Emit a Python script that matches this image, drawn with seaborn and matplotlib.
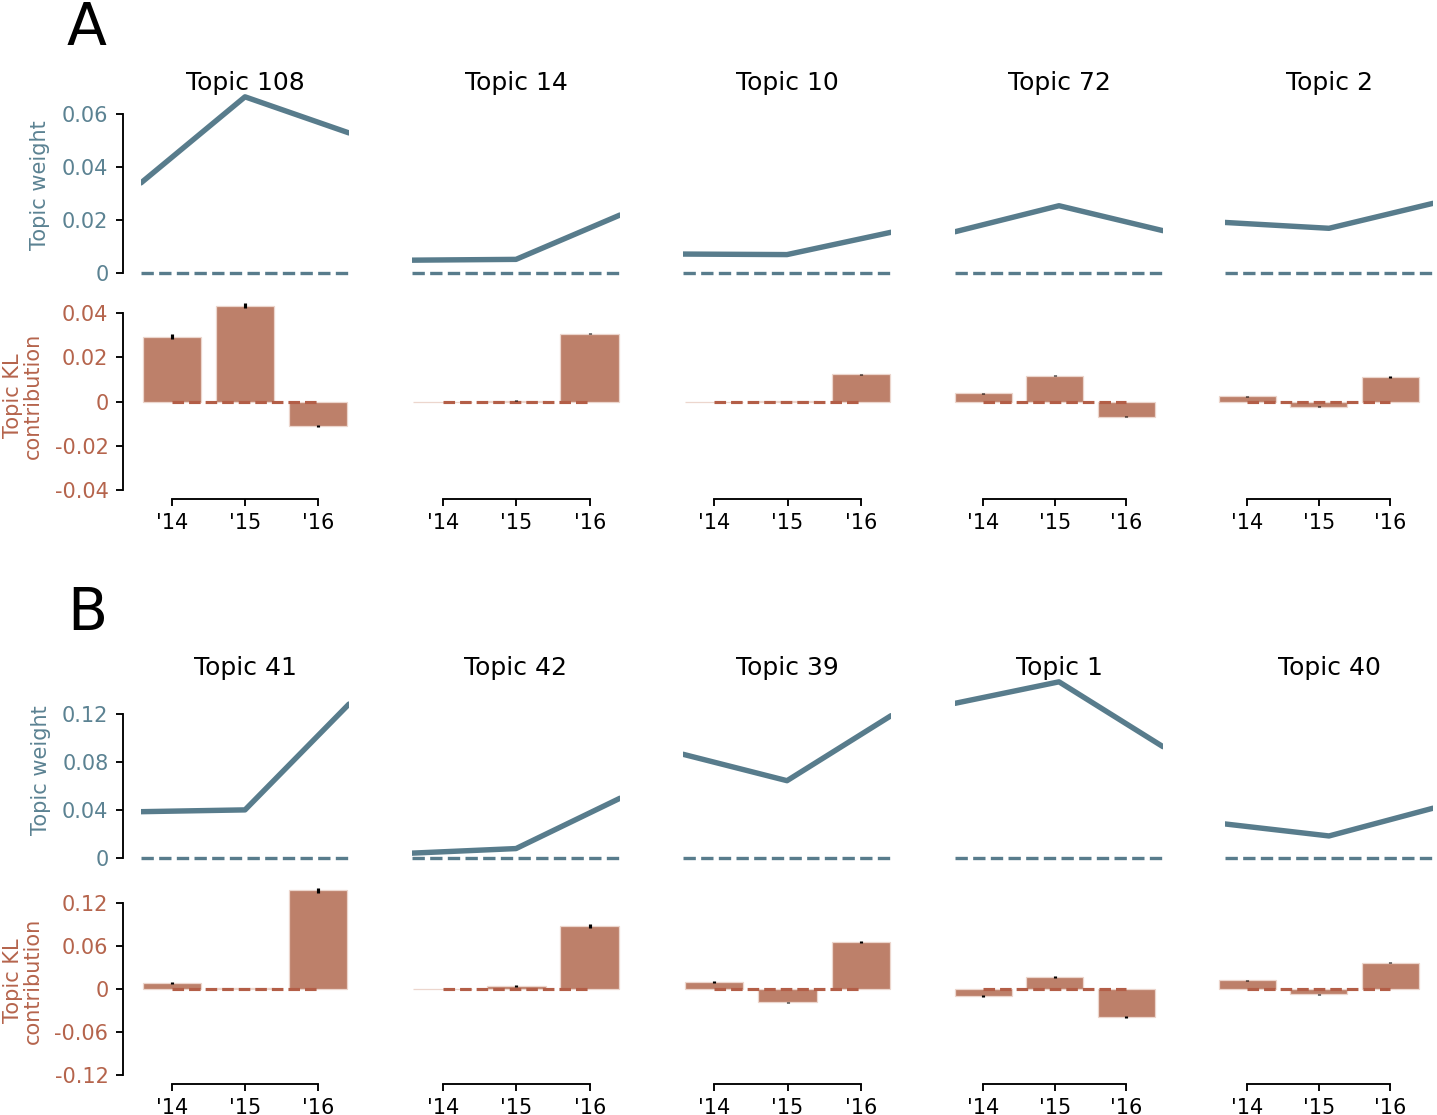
import numpy as np
import pandas as pd
import matplotlib
matplotlib.use("Agg")
import matplotlib.pyplot as plt
import seaborn as sns

# ---------------- data ----------------
years = ["'14", "'15", "'16"]

A_topics = ["Topic 108", "Topic 14", "Topic 10", "Topic 72", "Topic 2"]
A_weight = [[0.0340, 0.0664, 0.0528],
            [0.0049, 0.0052, 0.0219],
            [0.0072, 0.0070, 0.0154],
            [0.0156, 0.0254, 0.0160],
            [0.0191, 0.0169, 0.0263]]
A_kl = [[0.0294, 0.0435, -0.0110],
        [0.0000, 0.0003, 0.0307],
        [0.0000, 0.0002, 0.0124],
        [0.0038, 0.0118, -0.0068],
        [0.0023, -0.0023, 0.0112]]
A_kl_err = [[0.0010, 0.0012, 0.0004],
            [0.0000, 0.0002, 0.0003],
            [0.0000, 0.0001, 0.0003],
            [0.0003, 0.0003, 0.0003],
            [0.0002, 0.0002, 0.0003]]
A_weight_ticks = [0, 0.02, 0.04, 0.06]
A_kl_ticks = [-0.04, -0.02, 0, 0.02, 0.04]

B_topics = ["Topic 41", "Topic 42", "Topic 39", "Topic 1", "Topic 40"]
B_weight = [[0.0387, 0.0402, 0.1283],
            [0.0042, 0.0080, 0.0499],
            [0.0865, 0.0645, 0.1186],
            [0.1289, 0.1468, 0.0928],
            [0.0285, 0.0185, 0.0416]]
B_kl = [[0.0079, 0.0010, 0.1378],
        [0.0000, 0.0042, 0.0879],
        [0.0094, -0.0188, 0.0655],
        [-0.0102, 0.0169, -0.0394],
        [0.0117, -0.0078, 0.0366]]
B_kl_err = [[0.0012, 0.0005, 0.0035],
            [0.0000, 0.0010, 0.0025],
            [0.0010, 0.0010, 0.0015],
            [0.0010, 0.0015, 0.0010],
            [0.0010, 0.0010, 0.0012]]
B_weight_ticks = [0, 0.04, 0.08, 0.12]
B_kl_ticks = [-0.12, -0.06, 0, 0.06, 0.12]

# ---------------- style ----------------
sns.set_theme(style="ticks")
plt.rcParams['font.family'] = ['DejaVu Sans']
plt.rcParams.update({
    "text.color": "black",
    "axes.labelcolor": "black",
    "axes.titlecolor": "black",
    "axes.edgecolor": "black",
    "axes.linewidth": 0.9,
    "xtick.major.size": 3.5, "ytick.major.size": 3.5,
    "xtick.major.width": 0.9, "ytick.major.width": 0.9,
    "xtick.major.pad": 3.5, "ytick.major.pad": 3.5,
    "xtick.color": "black", "ytick.color": "black",
})

LINE_C = "#587c8c"
BAR_C = "#bd806a"
BAR_EDGE = "#ecd6cd"
DASH_C = "#b35e47"
KL_TXT = "#b5644c"
W_TXT = "#5b8292"

DPI = 150
W, H = 1437, 1115
fig = plt.figure(figsize=(W / DPI, H / DPI), dpi=DPI)


def box(l, r, t, h):
    return [l / W, 1 - (t + h) / H, (r - l) / W, h / H]


def fmt(v):
    return "0" if v == 0 else f"{v:g}"


top_x = [(141, 349), (412, 620), (683, 891), (955, 1163), (1225, 1433)]
bot_x = [(135.5, 354.5), (406, 626.5), (677.3, 897.8), (947.6, 1161.8), (1211.5, 1426)]
SPINE_X = 123  # px, left spine position
TOP_H = 194
BOT_H = 191

panels = [
    ("A", 0, A_topics, A_weight, A_kl, A_kl_err, A_weight_ticks, A_kl_ticks, (-0.0405, 0.046)),
    ("B", 585, B_topics, B_weight, B_kl, B_kl_err, B_weight_ticks, B_kl_ticks, (-0.1215, 0.1448)),
]

xs = np.arange(len(years))

for letter, dy, topics, weights, kls, errs, wticks, kticks, klim in panels:
    wmax = max(max(w) for w in weights)
    wlim = (-0.05 * wmax, 1.05 * wmax)
    fig.text(67 / W, 1 - (45 + dy) / H, letter, fontsize=28, va="baseline", ha="left",
             color="black")
    for i in range(len(topics)):
        # ---- top: topic weight line ----
        axt = fig.add_axes(box(top_x[i][0], top_x[i][1], 88 + dy, TOP_H))
        sns.lineplot(x=xs, y=weights[i], ax=axt, color=LINE_C, linewidth=2.6)
        axt.hlines(0, xs[0], xs[-1], colors=LINE_C, linestyles="--", linewidth=1.6)
        axt.set_xlim(xs[0], xs[-1])
        axt.set_ylim(*wlim)
        axt.set_title(topics[i], fontsize=12, y=1 - 2.0 / TOP_H, pad=0, color="black")
        axt.set_xlabel("")
        for s in ["top", "right", "bottom"]:
            axt.spines[s].set_visible(False)
        axt.tick_params(bottom=False, labelbottom=False)
        if i == 0:
            axt.set_yticks(wticks)
            axt.set_yticklabels([fmt(v) for v in wticks])
            axt.tick_params(axis="y", labelsize=10, labelcolor=W_TXT)
            axt.spines["left"].set_position(("outward", (top_x[i][0] - SPINE_X) * 72 / DPI))
            axt.spines["left"].set_bounds(wticks[0], wticks[-1])
            axt.set_ylabel("Topic weight", fontsize=10, color=W_TXT, labelpad=5.5)
        else:
            axt.spines["left"].set_visible(False)
            axt.tick_params(left=False, labelleft=False)
            axt.set_ylabel("")

        # ---- bottom: KL contribution bars ----
        axb = fig.add_axes(box(bot_x[i][0], bot_x[i][1], 300 + dy, BOT_H))
        sns.barplot(x=years, y=kls[i], ax=axb, color=BAR_C, saturation=1,
                    errorbar=None, width=0.8, edgecolor=BAR_EDGE, linewidth=0.6)
        axb.hlines(0, xs[0], xs[-1], colors=DASH_C, linestyles="--", linewidth=1.5, zorder=3)
        axb.errorbar(xs, kls[i], yerr=errs[i], fmt="none", ecolor="black",
                     elinewidth=1.5, capsize=0, zorder=4)
        axb.set_xlim(-0.5, len(years) - 0.5)
        axb.set_ylim(*klim)
        axb.set_xlabel("")
        axb.spines["top"].set_visible(False)
        axb.spines["right"].set_visible(False)
        axb.spines["bottom"].set_position(("outward", 7.5 * 72 / DPI))
        axb.spines["bottom"].set_bounds(xs[0], xs[-1])
        axb.set_xticks(xs)
        axb.set_xticklabels(years)
        axb.tick_params(axis="x", labelsize=10, labelcolor="black")
        if i == 0:
            axb.set_yticks(kticks)
            axb.set_yticklabels([fmt(v) for v in kticks])
            axb.tick_params(axis="y", labelsize=10, labelcolor=KL_TXT)
            axb.spines["left"].set_position(("outward", (bot_x[i][0] - SPINE_X) * 72 / DPI))
            axb.spines["left"].set_bounds(kticks[0], kticks[-1])
            axb.set_ylabel("Topic KL\ncontribution", fontsize=10, color=KL_TXT,
                           labelpad=5.5, linespacing=1.0)
        else:
            axb.spines["left"].set_visible(False)
            axb.tick_params(left=False, labelleft=False)
            axb.set_ylabel("")

fig.savefig("out.png", dpi=DPI)
